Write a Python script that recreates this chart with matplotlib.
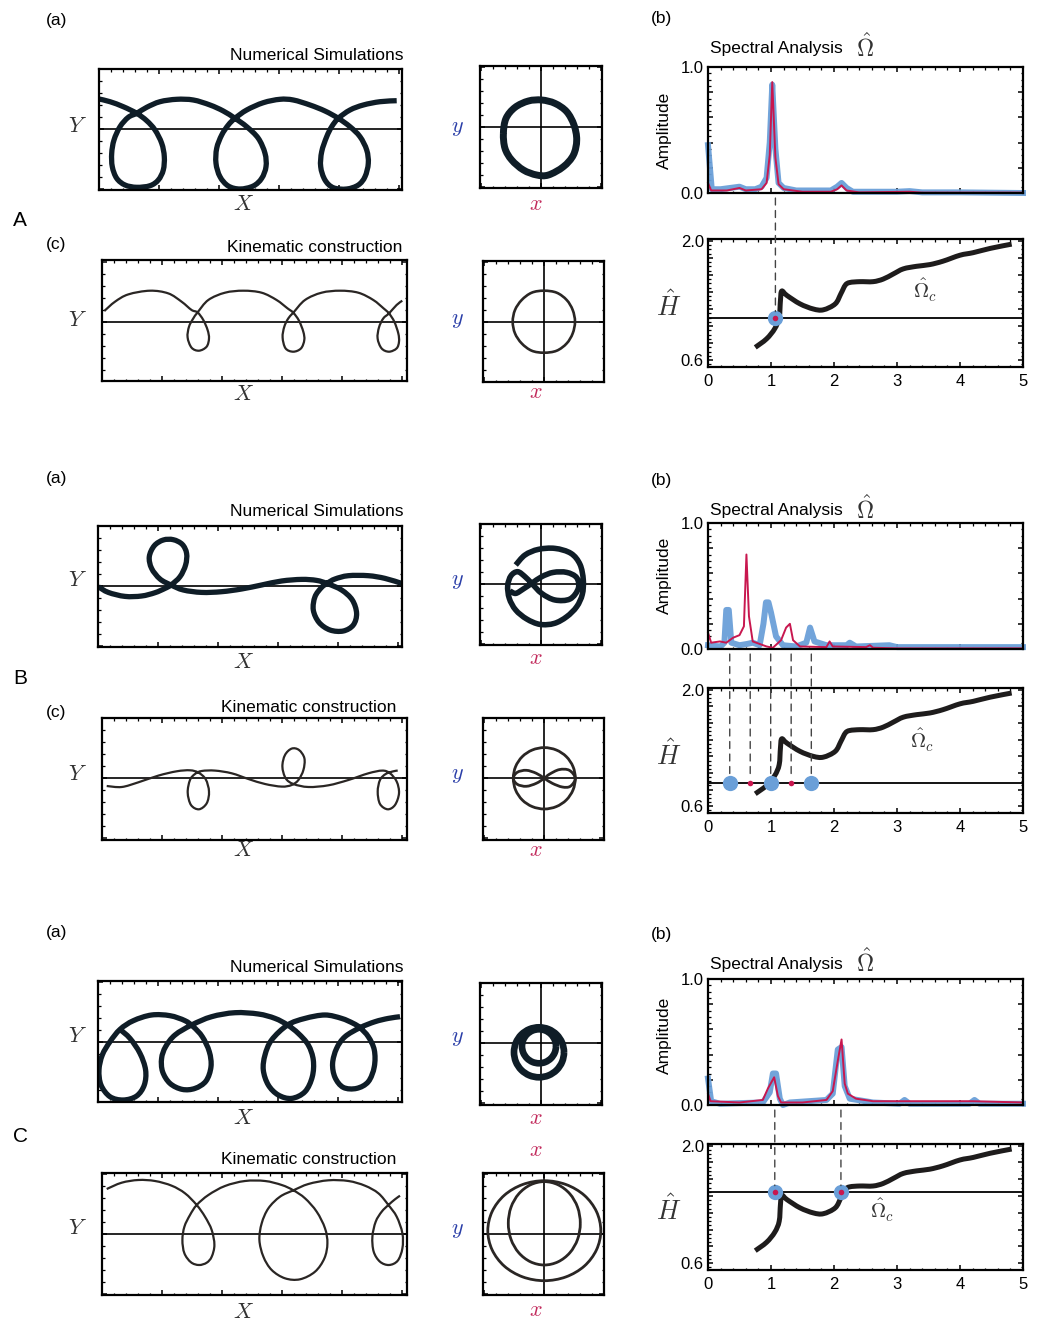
import numpy as np
import matplotlib
matplotlib.use('Agg')
import matplotlib.pyplot as plt
from matplotlib.patches import ConnectionPatch, PathPatch
from matplotlib.path import Path
from matplotlib.ticker import MultipleLocator, FuncFormatter

plt.rcParams['font.family'] = ['Liberation Sans', 'DejaVu Sans']
plt.rcParams['mathtext.fontset'] = 'cm'

# ---- trajectories (units: pixels, origin at the cross line) ----
A_sim = [(0, 29.5), (11, 26.8), (24.3, 21.8), (37.7, 15.2), (47.7, 7.8), (56, -1.5), (62.7, -14.8),
         (65.3, -28.2), (64.3, -41.5), (59.3, -51.5), (51, -57.2), (37.7, -58.8), (26, -56.5),
         (17.7, -49.8), (13.3, -38.2), (12.7, -24.8), (15, -11.5), (21, 1.8), (29.3, 11.2), (37.7, 15.2),
         (47.7, 21.2), (61, 26.8), (77.7, 29.2), (94.3, 28.5), (111, 23.5), (124.3, 17.5), (136, 10.2),
         (147.7, 1.8), (159.3, -9.8), (166, -24.8), (167, -38.2), (162.7, -49.8), (154.3, -57.5),
         (141, -60.5), (129.3, -57.5), (121, -48.2), (117, -34.8), (117.7, -19.8), (122.7, -6.5),
         (129.3, 3.5), (136, 10.2), (147.7, 18.5), (164.3, 25.8), (181, 29.2), (194.3, 28.5), (211, 23.5),
         (226, 17.5), (239.3, 10.2), (251, 1.8), (261, -8.2), (267.7, -21.5), (269.3, -34.8), (266, -48.2),
         (259.3, -56.5), (247.7, -60.5), (234.3, -59.2), (226, -51.5), (221.7, -38.2), (222.7, -23.2),
         (227.7, -8.2), (232.7, 1.8), (239.3, 10.2), (251, 18.5), (264.3, 23.5), (281, 26.8), (297.7, 27.8)]
A_sim_xy = [(-37.3, -6.7), (-34.7, 8.3), (-25.7, 19.3), (-12.3, 25.7), (1, 26.7), (14.3, 23.3), (26, 15),
            (33.3, 1.7), (36, -13.3), (32.7, -28.3), (22.7, -40), (7.7, -48.3), (-4, -48.3), (-17.3, -43.3),
            (-29, -33.3), (-35.7, -21.7), (-37.3, -6.7)]
A_kin = [(2, 10.7), (12.7, 20), (26, 27.3), (47.7, 31), (66, 28.3), (79.3, 20), (89.3, 11.7), (95.3, 9.3),
         (101, 1.7), (105.3, -8.3), (106.7, -16.7), (104.3, -25), (96.7, -29), (89.3, -26), (85.3, -15.7),
         (86.7, -5), (91, 3.3), (95.3, 9.3), (106, 21.7), (122.7, 29), (141, 31), (159.3, 29), (174.3, 21.7),
         (185.3, 13.3), (191, 9), (196.7, 1), (201, -10), (202, -18.3), (198.7, -26.7), (191, -30),
         (183.3, -26.7), (180.3, -15.7), (182, -5), (186, 3.3), (191, 9), (202.7, 21.7), (219.3, 29),
         (237.7, 31), (256, 29), (271, 21.7), (281.3, 13.3), (286.7, 8.3), (292, 0), (296, -11.7),
         (296.7, -20), (294.3, -26.7), (286.7, -30), (279.3, -26.7), (275.3, -16.7), (276.7, -5.7),
         (281, 3.3), (286.7, 8.3), (294.3, 16.7), (300, 21)]
A_kin_xy = [(31, 0), (28.7, 11.7), (22.7, 21.7), (12.7, 29), (0, 31), (-12.3, 29), (-22.3, 21.7), (-29, 11.7),
            (-31.3, 0), (-29, -11.7), (-22.3, -21.7), (-12.3, -29), (0, -31), (12.7, -29), (22.7, -21.7),
            (28.7, -11.7), (31, 0)]

B_sim = [(0, -1), (10, -6.7), (26.7, -10.7), (43.3, -10.3), (56.7, -7), (66.7, -2.7), (72.7, 0.7), (81.7, 9),
         (87.3, 20.7), (88.3, 32.3), (84, 41.3), (75, 46), (65, 45.7), (56, 40), (51, 29), (53.3, 17.3),
         (61.7, 6.7), (72.7, 0.7), (85, -4.3), (103.3, -6.7), (123.3, -6), (143.3, -3.3), (163.3, 0.7),
         (183.3, 4.7), (203.3, 6.3), (218.3, 5.3), (229.3, 2), (243.3, -4.3), (254, -14.3), (258.3, -27.7),
         (255, -39.3), (245, -45.3), (231.7, -44.3), (220.7, -36.7), (215, -24.3), (216.7, -11),
         (223.3, -1.7), (229.3, 2.7), (236.7, 6.7), (250, 10), (270, 10), (286.7, 7.3), (303.3, 2.3)]
B_sim_xy = [(-25.3, 18.7), (-16, 28.7), (-2.7, 34.3), (14, 35.3), (30, 30.3), (39, 19.3), (42.3, 3.7),
            (41.3, -10.7), (35.7, -23), (25.7, -33), (13.3, -39.7), (-1, -40.7), (-14.3, -35.3), (-25.3, -26.3),
            (-31.7, -14.7), (-33.3, -2), (-30, 8), (-23.3, 12), (-16, 7), (-9.3, 0.3), (0.7, -9.7), (14, -16.3),
            (29, -15.3), (37.3, -4.7), (35.7, 6), (25.7, 11.3), (12.3, 11.3), (0.7, 7), (-9.3, 0.3),
            (-17.7, -5.3), (-25.3, -9.7), (-31, -7.3)]
B_kin = [(5, -7.7), (20, -8.7), (36.7, -4), (56.7, 2.7), (75, 7), (88.3, 8), (96.7, 5.7), (104, -1),
         (107.3, -13.3), (105, -25), (97.3, -31), (89.3, -26.7), (86, -14.3), (88.3, -1.7), (93.3, 4.3),
         (100, 7.3), (113.3, 7.7), (130, 5), (146.7, -0.7), (163.3, -5.7), (180, -8.3), (190, -6.7),
         (196.7, -1.7), (201.7, 8.3), (202.7, 20), (197.3, 28.3), (190, 29.7), (183.3, 23.3), (180.7, 11.7),
         (184, 0), (191.7, -5.7), (206.7, -8.7), (226.7, -7), (246.7, -1.7), (266.7, 5), (280.7, 7.7),
         (288.3, 5), (295, -3.3), (297.3, -15), (293.3, -26.7), (286, -31), (278.3, -25.7), (276, -13.3),
         (278.3, -1.7), (284, 4.3), (291.7, 7), (296, 7.7)]
B_kin_xy_oval = [(31, 0), (28.7, 11.7), (22, 21.7), (12, 28.3), (0, 30.7), (-12, 28.3), (-22, 21.7),
                 (-28.7, 11.7), (-31, 0), (-28.7, -11.7), (-22, -21.7), (-12, -28.3), (0, -30.7), (12, -28.3),
                 (22, -21.7), (28.7, -11.7), (31, 0)]
B_kin_xy_eight = [(31, 0), (25, 8), (15, 8.7), (5, 4), (0, 0), (-8, -5), (-18, -8), (-27, -6),
                  (-31, 0), (-27, 6), (-18, 8), (-8, 5), (0, 0), (8, -5), (18, -8.7), (26, -8), (31, 0)]

C_sim = [(21.7, 12.3), (31.7, 3.3), (41.7, -11.7), (47.3, -28.3), (46, -43.3), (38.3, -54.3), (25, -58.3),
         (11.7, -55), (2.7, -43.3), (0.7, -28.3), (4, -13.3), (11.7, 0), (21.7, 12.3), (35, 21), (53.3, 26.7),
         (71.7, 26), (86.7, 21), (95, 15), (104, 5), (111, -10), (112.7, -25), (107.7, -39.3), (96.7, -46.7),
         (84, -47.7), (71.7, -41.7), (64.3, -30), (63.3, -16.7), (67.3, -5), (76.7, 6.7), (93.3, 16.7),
         (113.3, 25), (136.7, 29), (160, 27.7), (176.7, 23.3), (189.3, 16.7), (200, 8.3), (210, -3.3),
         (215, -18.3), (214, -35), (206.7, -50), (193.3, -56.7), (180, -53.3), (170, -43.3), (165, -28.3),
         (166.7, -13.3), (173.3, 1.7), (189.3, 16.7), (206.7, 23.3), (226.7, 26.7), (243.3, 23.3),
         (255, 18.3), (261.7, 14), (270, 5), (276, -8.3), (276, -25), (270, -40), (258.3, -46.7),
         (245, -45.7), (236.7, -35.7), (234.3, -21.7), (238.3, -6.7), (246.7, 5), (261.7, 14), (276.7, 20),
         (290, 23.3), (301.7, 25)]
C_sim_xy_inner = [(15, -3), (13.7, 3.5), (10, 9), (4.5, 12.7), (-2, 14), (-8.5, 12.7), (-14, 9), (-17.7, 3.5),
                  (-19, -3), (-17.7, -9.5), (-14, -15), (-8.5, -18.7), (-2, -20), (4.5, -18.7), (10, -15),
                  (13.7, -9.5), (15, -3)]
C_sim_xy_outer = [(23, -9), (21.1, 0.6), (15.7, 8.7), (7.6, 14.1), (-2, 16), (-11.6, 14.1), (-19.7, 8.7),
                  (-25.1, 0.6), (-27, -9), (-25.1, -18.6), (-19.7, -26.7), (-11.6, -32.1), (-2, -34),
                  (7.6, -32.1), (15.7, -26.7), (21.1, -18.6), (23, -9)]
C_kin = [(5, 45), (20, 51.3), (36.7, 54), (53.3, 53), (70, 48.3), (83.3, 40.7), (95, 29), (103.3, 17.3),
         (110, 4), (112.7, -11), (110, -22.7), (105, -28.7), (97.3, -31), (89.3, -28.3), (82.7, -19.3),
         (80.7, -6), (82.7, 7.3), (88.3, 19), (95, 29), (106.7, 39), (123.3, 48), (143.3, 53), (163.3, 53),
         (180, 49), (191.7, 43.7), (203.3, 35.7), (215, 22.3), (223.3, 5.7), (225.7, -9.3), (222.7, -24.3),
         (213.3, -37.7), (198.3, -45.3), (183.3, -44.3), (170, -36), (161.7, -22.7), (157.7, -6), (160, 10.7),
         (166.7, 25.7), (178.3, 37.3), (191.7, 43.7), (206.7, 50), (226.7, 53.7), (246.7, 53), (263.3, 48.3),
         (276.7, 40.7), (286.7, 29), (295, 17.3), (300.7, 0.7), (300.7, -14.3), (296, -26.7), (287.3, -31),
         (278.3, -27.7), (272, -17.7), (270.7, -2.7), (274, 12.3), (280, 22.3), (286.7, 29), (293.3, 34.7),
         (298.3, 38.3)]
C_kin_xy_outer = [(56.5, 3.3), (52.2, 22.4), (40, 38.7), (21.6, 49.5), (0, 53.3), (-21.6, 49.5), (-40, 38.7),
                  (-52.2, 22.4), (-56.5, 3.3), (-52.2, -15.8), (-40, -32.1), (-21.6, -42.9), (0, -46.7),
                  (21.6, -42.9), (40, -32.1), (52.2, -15.8), (56.5, 3.3)]
C_kin_xy_inner = [(36, 10.7), (33.3, 26.7), (25.5, 40.2), (13.8, 49.2), (0, 52.4), (-13.8, 49.2), (-25.5, 40.2),
                  (-33.3, 26.7), (-36, 10.7), (-33.3, -5.3), (-25.5, -18.8), (-13.8, -27.8), (0, -31),
                  (13.8, -27.8), (25.5, -18.8), (33.3, -5.3), (36, 10.7)]

# ---- spectra (frequency, amplitude) ----
A_blue = [(0.0, 0.38), (0.06, 0.03), (0.2, 0.03), (0.35, 0.04), (0.5, 0.05), (0.6, 0.03), (0.75, 0.03),
          (0.85, 0.05), (0.93, 0.12), (0.98, 0.4), (1.02, 0.86), (1.07, 0.35), (1.12, 0.08), (1.2, 0.04),
          (1.4, 0.02), (1.7, 0.02), (1.95, 0.02), (2.05, 0.05), (2.12, 0.08), (2.2, 0.04), (2.3, 0.01),
          (2.6, 0.01), (3.0, 0.01), (3.2, 0.015), (3.4, 0.005), (4.0, 0.005), (5.0, 0.0)]
A_red = [(0.0, 0.08), (0.05, 0.02), (0.3, 0.02), (0.5, 0.04), (0.6, 0.02), (0.85, 0.03), (0.93, 0.08),
         (0.98, 0.3), (1.02, 0.88), (1.07, 0.28), (1.12, 0.07), (1.2, 0.03), (1.5, 0.01), (1.95, 0.01),
         (2.05, 0.03), (2.12, 0.06), (2.2, 0.02), (2.4, 0.005), (3.2, 0.01), (3.4, 0.003), (5.0, 0.003)]
B_blue = [(0, 0.03), (0.2, 0.02), (0.26, 0.05), (0.29, 0.31), (0.33, 0.31), (0.37, 0.05), (0.5, 0.03),
          (0.62, 0.04), (0.71, 0.05), (0.82, 0.03), (0.88, 0.2), (0.92, 0.37), (0.96, 0.37), (1.0, 0.29),
          (1.08, 0.10), (1.19, 0.03), (1.4, 0.02), (1.56, 0.05), (1.62, 0.17), (1.69, 0.06), (1.88, 0.03),
          (2.2, 0.03), (2.25, 0.05), (2.35, 0.02), (2.88, 0.03), (3.0, 0.015), (5.0, 0.015)]
B_red = [(0, 0.13), (0.05, 0.05), (0.19, 0.06), (0.29, 0.05), (0.4, 0.09), (0.5, 0.11), (0.57, 0.18),
         (0.61, 0.75), (0.65, 0.26), (0.71, 0.06), (0.93, 0.02), (1.03, 0.01), (1.16, 0.07), (1.24, 0.17),
         (1.3, 0.2), (1.35, 0.07), (1.46, 0.02), (1.88, 0.015), (1.93, 0.06), (1.98, 0.02), (2.51, 0.015),
         (2.57, 0.03), (2.62, 0.01), (3.0, 0.005), (5.0, 0.005)]
C_blue = [(0, 0.21), (0.05, 0.03), (0.19, 0.01), (0.5, 0.015), (0.87, 0.02), (0.98, 0.10), (1.03, 0.25),
          (1.08, 0.25), (1.14, 0.05), (1.19, 0.0), (1.3, 0.02), (1.88, 0.04), (1.98, 0.09), (2.06, 0.44),
          (2.12, 0.46), (2.17, 0.15), (2.25, 0.05), (2.62, 0.02), (3.04, 0.01), (3.12, 0.04), (3.2, 0.01),
          (4.15, 0.01), (4.23, 0.04), (4.31, 0.01), (5.0, 0.01)]
C_red = [(0, 0.09), (0.04, 0.03), (0.5, 0.02), (0.87, 0.04), (0.95, 0.13), (1.05, 0.22), (1.11, 0.07),
         (1.16, 0.02), (1.5, 0.02), (1.88, 0.04), (1.98, 0.11), (2.06, 0.35), (2.12, 0.52), (2.17, 0.17),
         (2.22, 0.09), (2.35, 0.05), (2.62, 0.03), (3.1, 0.03), (4.2, 0.03), (5.0, 0.02)]

# ---- H vs Omega_c curve, and selected frequencies ----
omega_c = [0.75, 0.93, 1.06, 1.13, 1.15, 1.17, 1.25, 1.46, 1.67, 1.83, 2.02, 2.11, 2.18, 2.25, 2.41, 2.62,
           2.78, 2.94, 3.10, 3.31, 3.52, 3.73, 4.00, 4.21, 4.48, 4.82]
H_c = [0.75, 0.85, 0.97, 1.10, 1.30, 1.41, 1.36, 1.26, 1.20, 1.19, 1.26, 1.38, 1.48, 1.51, 1.52, 1.52,
       1.55, 1.61, 1.67, 1.70, 1.72, 1.76, 1.83, 1.86, 1.91, 1.96]
A_level, B_level, C_level = 1.09, 0.875, 1.445
A_blue_pk, A_red_pk = [1.07], [1.07]
B_blue_pk, B_red_pk = [0.345, 0.995, 1.64], [0.67, 1.32]
C_blue_pk, C_red_pk = [1.06, 2.11], [1.06, 2.11]

W, H = 1041, 1322
fig = plt.figure(figsize=(W / 100, H / 100), dpi=100)

BLUE = '#6a9fd8'
RED = '#c8174f'
SIMC = '#0f1d27'
KINC = '#2a2624'


def box_axes(x0, y0, x1, y1):
    return fig.add_axes([x0 / W, 1 - y1 / H, (x1 - x0) / W, (y1 - y0) / H])


def txt(x, y, s, **kw):
    kw.setdefault('ha', 'center')
    kw.setdefault('va', 'center')
    fig.text(x / W, 1 - y / H, s, **kw)


def smooth_path(pts):
    # catmull-rom through the read points, drawn as bezier path
    p = np.array(pts, float)
    n = len(p)
    closed = np.allclose(p[0], p[-1])
    verts = [p[0]]
    codes = [Path.MOVETO]
    for i in range(n - 1):
        p0 = p[i - 1] if i > 0 else (p[-2] if closed else p[0])
        p3 = p[i + 2] if i + 2 < n else (p[1] if closed else p[-1])
        p1, p2 = p[i], p[i + 1]
        verts += [p1 + (p2 - p0) / 6, p2 - (p3 - p1) / 6, p2]
        codes += [Path.CURVE4] * 3
    return Path(verts, codes)


def curve(ax, pts, lw, color, z=2):
    ax.add_patch(PathPatch(smooth_path(pts), fill=False, edgecolor=color, lw=lw,
                           joinstyle='round', capstyle='butt', zorder=z))


def frame(ax, major, minor):
    for s in ax.spines.values():
        s.set_linewidth(1.6)
    ax.xaxis.set_major_locator(MultipleLocator(major[0]))
    ax.xaxis.set_minor_locator(MultipleLocator(minor[0]))
    ax.yaxis.set_major_locator(MultipleLocator(major[1]))
    ax.yaxis.set_minor_locator(MultipleLocator(minor[1]))
    ax.tick_params(which='both', direction='in', top=True, right=True)
    ax.tick_params(which='major', length=3.5, width=1.1)
    ax.tick_params(which='minor', length=1.8, width=0.9)


def traj(box, origin, paths, lw, color, cross=False):
    x0, y0, x1, y1 = box
    ox, oy = origin
    ax = box_axes(*box)
    ax.axhline(0, color='k', lw=1.2, zorder=1)
    if cross:
        ax.axvline(0, color='k', lw=1.2, zorder=1)
    for pts in paths:
        curve(ax, pts, lw, color)
    ax.set_xlim(x0 - ox, x1 - ox)
    ax.set_ylim(oy - y1, oy - y0)
    frame(ax, (60, 60), (12, 12))
    ax.set_xticklabels([])
    ax.set_yticklabels([])
    return ax


def only(vals):
    return FuncFormatter(lambda v, p: '%.1f' % v if any(abs(v - t) < 1e-6 for t in vals) else '')


def spectral(spec_box, h_box, blue, red, level, blue_pk, red_pk, big_dot_red):
    sp = box_axes(*spec_box)
    bx, by = np.array(blue).T
    rx, ry = np.array(red).T
    sp.plot(bx, by, color=BLUE, lw=4.3, alpha=0.95, clip_on=False, solid_joinstyle='round')
    sp.plot(rx, ry, color=RED, lw=1.4, clip_on=False)
    sp.set_xlim(0, 5)
    sp.set_ylim(0, 1.0)
    frame(sp, (1, 0.2), (0.2, 0.05))
    sp.xaxis.set_major_formatter(FuncFormatter(lambda v, p: ''))
    sp.yaxis.set_major_formatter(only([0.0, 1.0]))
    sp.tick_params(labelsize=12, pad=3)

    hx = box_axes(*h_box)
    hx.axhline(level, color='k', lw=1.3, zorder=1)
    curve(hx, list(zip(omega_c, H_c)), 3.6, '#1e1c1c')
    hx.set_xlim(0, 5)
    hx.set_ylim(0.52, 2.02)
    frame(hx, (1, 0.2), (0.2, 0.05))
    hx.yaxis.set_major_formatter(only([0.6, 2.0]))
    hx.xaxis.set_major_formatter(FuncFormatter(lambda v, p: '%d' % round(v)))
    hx.tick_params(labelsize=12, pad=3)
    hx.tick_params(axis='x', pad=5)

    for f in blue_pk:
        hx.plot([f], [level], 'o', color=BLUE, ms=11, mew=0, zorder=4, clip_on=False)
        if big_dot_red:
            hx.plot([f], [level], 'o', color=RED, ms=4, mew=0, zorder=5, clip_on=False)
    for f in red_pk:
        if not big_dot_red:
            hx.plot([f], [level], 'o', color=RED, ms=4, mew=0, zorder=5, clip_on=False)
    for f in sorted(set(blue_pk + red_pk)):
        cp = ConnectionPatch(xyA=(f, -0.04), coordsA=sp.transData,
                             xyB=(f, level + 0.08), coordsB=hx.transData,
                             color='#444444', lw=1.0, linestyle=(0, (5, 4)))
        fig.add_artist(cp)
    return sp, hx


# ---------------- row A ----------------
traj((99, 69, 402, 189.5), (99, 128.5), [A_sim], 3.8, SIMC)
traj((480, 66.3, 602.3, 187.7), (540.7, 126.7), [A_sim_xy], 5.0, SIMC, cross=True)
traj((102.3, 260, 406.7, 380.7), (102.3, 321.7), [A_kin], 1.6, KINC)
traj((482.7, 260.7, 604, 381.7), (544, 321.7), [A_kin_xy], 1.9, KINC, cross=True)
spectral((708, 67, 1023, 193), (708, 239, 1023, 367), A_blue, A_red, A_level, A_blue_pk, A_red_pk, True)

# ---------------- row B ----------------
traj((98.3, 525.7, 402.3, 647.3), (98.3, 585.7), [B_sim], 3.8, SIMC)
traj((480, 524, 602.3, 645), (541, 583.7), [B_sim_xy], 4.0, SIMC, cross=True)
traj((101.7, 718.3, 406.7, 840), (101.7, 778.3), [B_kin], 1.6, KINC)
traj((482.7, 718.3, 604, 840), (544.3, 778.3), [B_kin_xy_oval, B_kin_xy_eight], 2.0, KINC, cross=True)
spectral((708, 523, 1023, 649), (708, 688, 1023, 813), B_blue, B_red, B_level, B_blue_pk, B_red_pk, False)

# ---------------- row C ----------------
traj((98.3, 981, 402.3, 1101.7), (98.3, 1041.7), [C_sim], 3.8, SIMC)
traj((480, 983.3, 602.3, 1105), (541, 1043.3), [C_sim_xy_inner, C_sim_xy_outer], 4.8, SIMC, cross=True)
traj((101.7, 1173.3, 406.7, 1295), (101.7, 1234), [C_kin], 1.6, KINC)
traj((482.7, 1173.3, 604, 1295), (544.3, 1234), [C_kin_xy_outer, C_kin_xy_inner], 2.0, KINC, cross=True)
spectral((708, 979, 1023, 1105), (708, 1144, 1023, 1270), C_blue, C_red, C_level, C_blue_pk, C_red_pk, True)

# ---------------- labels ----------------
YB = '#2b3fa8'
XR = '#c22a5c'
fs = 12.5
rows = [
    dict(a=20, ns=55, sY=127, sX=205, sx=204, L='A', Ly=221, c=245, kt=247, ktr=402, kY=320, kX=394, kx=393,
         b=18, sa=49, amp=130, hh=306, om=(925, 290)),
    dict(a=479, ns=511, sY=580, sX=663, sx=658, L='B', Ly=678, c=712, kt=707, ktr=396, kY=775, kX=851, kx=851,
         b=480, sa=511, amp=575, hh=755, om=(922, 740)),
    dict(a=932, ns=968, sY=1037, sX=1118, sx=1118, L='C', Ly=1136, c=None, kt=1159, ktr=396, kY=1229, kX=1312,
         kx=1310, b=934, sa=964, amp=1035, hh=1210, om=(882, 1210)),
]
for r in rows:
    txt(46, r['a'], '(a)', fontsize=fs, ha='left')
    txt(403, r['ns'], 'Numerical Simulations', fontsize=fs, ha='right')
    txt(77, r['sY'], r'$Y$', fontsize=16, color='#333333')
    txt(243, r['sX'], r'$X$', fontsize=16, color='#333333')
    txt(457, r['sY'], r'$y$', fontsize=16, color=YB)
    txt(536, r['sx'], r'$x$', fontsize=16, color=XR)
    txt(20, r['Ly'], r['L'], fontsize=15)
    if r['c'] is not None:
        txt(46, r['c'], '(c)', fontsize=fs, ha='left')
    txt(r['ktr'], r['kt'], 'Kinematic construction', fontsize=fs, ha='right')
    txt(77, r['kY'], r'$Y$', fontsize=16, color='#333333')
    txt(243, r['kX'], r'$X$', fontsize=16, color='#333333')
    txt(457, r['kY'], r'$y$', fontsize=16, color=YB)
    txt(536, r['kx'], r'$x$', fontsize=16, color=XR)
    txt(651, r['b'], '(b)', fontsize=fs, ha='left')
    txt(710, r['sa'], 'Spectral Analysis', fontsize=fs, ha='left')
    txt(865, r['sa'] - 1, r'$\hat{\Omega}$', fontsize=17, color='#333333')
    txt(664, r['amp'], 'Amplitude', fontsize=fs, rotation=90)
    txt(669, r['hh'], r'$\hat{H}$', fontsize=19, color='#333333')
    txt(r['om'][0], r['om'][1], r'$\hat{\Omega}_c$', fontsize=15, color='#333333')
txt(536, 1151, r'$x$', fontsize=16, color=XR)

fig.savefig('out.png', dpi=100)
